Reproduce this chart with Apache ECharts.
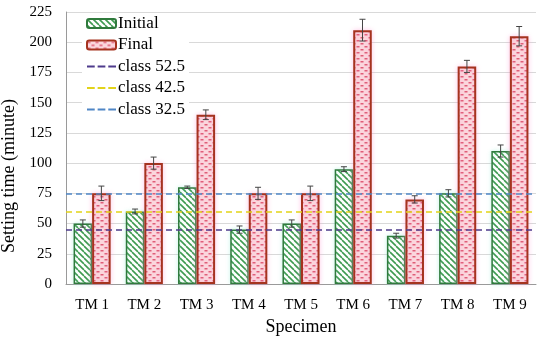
<!DOCTYPE html>
<html>
<head>
<meta charset="utf-8">
<script src="https://cdn.jsdelivr.net/npm/echarts@6/dist/echarts.min.js"></script>
<style>
html,body{margin:0;padding:0;background:#fff;}
#chart{width:550px;height:339px;}
</style>
</head>
<body>
<div id="chart"></div>
<script>
var categories = ['TM 1','TM 2','TM 3','TM 4','TM 5','TM 6','TM 7','TM 8','TM 9'];
var initialValues = [50, 60, 80, 45, 50, 95, 40, 75, 110];
var initialErrors = [3, 2, 1, 3, 3, 2, 2, 3, 5];
var finalValues = [75, 100, 140, 75, 75, 210, 70, 180, 205];
var finalErrors = [6, 5, 4, 5, 6, 9, 3, 5, 8];
var classNames = ['class 52.5', 'class 42.5', 'class 32.5'];
var classValues = [45, 60, 75];
var yTicks = [0, 225, 25];

var FONT = '"Liberation Serif", "Times New Roman", serif';
var classColors = ['#4e3b8c', '#e2d31a', '#4f86c6'];

function makeHatch() {
  var c = document.createElement('canvas');
  c.width = 6; c.height = 6;
  var g = c.getContext('2d');
  g.fillStyle = '#ffffff';
  g.fillRect(0, 0, 6, 6);
  g.strokeStyle = '#3e9a50';
  g.lineWidth = 1.6;
  for (var k = -1; k <= 1; k++) {
    g.beginPath();
    g.moveTo(k * 6, 0);
    g.lineTo(k * 6 + 6, 6);
    g.stroke();
  }
  return c;
}
function makeDots() {
  var c = document.createElement('canvas');
  c.width = 8; c.height = 6;
  var g = c.getContext('2d');
  g.fillStyle = '#fbd6dd';
  g.fillRect(0, 0, 8, 6);
  g.fillStyle = '#e05d78';
  g.fillRect(0.5, 1, 3, 1.5);
  g.fillRect(4.5, 4, 3, 1.5);
  return c;
}

var chart = echarts.init(document.getElementById('chart'), null, {renderer: 'canvas'});

function errorSeries(name, vals, errs, side) {
  var data = vals.map(function (v, i) { return [i, v, errs[i]]; });
  return {
    type: 'custom',
    name: name,
    z: 10,
    silent: true,
    encode: {x: 0, y: 1},
    data: data,
    renderItem: function (params, api) {
      var idx = api.value(0), v = api.value(1), e = api.value(2);
      var band = api.size([1, 0])[0];
      var bw = band * (1 - 0.29) / 2;
      var p = api.coord([idx, v]);
      var x = p[0] + side * bw / 2;
      var top = api.coord([idx, v + e])[1];
      var bot = api.coord([idx, v - e])[1];
      var cap = 3;
      var style = {stroke: '#444', lineWidth: 1, fill: null};
      return {
        type: 'group',
        children: [
          {type: 'line', shape: {x1: x, y1: top, x2: x, y2: bot}, style: style},
          {type: 'line', shape: {x1: x - cap, y1: top, x2: x + cap, y2: top}, style: style},
          {type: 'line', shape: {x1: x - cap, y1: bot, x2: x + cap, y2: bot}, style: style}
        ]
      };
    }
  };
}

var dashIcon = 'path://M0,0h8v2h-8z M11,0h8v2h-8z M22,0h8v2h-8z';

var series = [
  {
    name: 'Initial', type: 'bar', data: initialValues,
    barGap: '0%', barCategoryGap: '29%',
    itemStyle: {color: {image: makeHatch(), repeat: 'repeat'}, borderColor: '#2f7a3c', borderWidth: 1.5,
      shadowColor: 'rgba(120,230,200,0.35)', shadowBlur: 4}
  },
  {
    name: 'Final', type: 'bar', data: finalValues,
    barGap: '0%', barCategoryGap: '29%',
    itemStyle: {color: {image: makeDots(), repeat: 'repeat'}, borderColor: '#a5331f', borderWidth: 2,
      shadowColor: 'rgba(255,150,210,0.45)', shadowBlur: 5}
  },
  errorSeries('errInitial', initialValues, initialErrors, -1),
  errorSeries('errFinal', finalValues, finalErrors, 1)
];
classNames.forEach(function (n, i) {
  series.push({
    name: n, type: 'line', data: [],
    itemStyle: {color: classColors[i]},
    lineStyle: {color: classColors[i], type: 'dashed', width: 1.5},
    markLine: {
      silent: true, symbol: 'none', label: {show: false},
      lineStyle: {color: classColors[i], type: [6, 4], width: 1.5},
      data: [{yAxis: classValues[i]}]
    }
  });
});

chart.setOption({
  animation: false,
  backgroundColor: '#ffffff',
  grid: {left: 66, right: 14, top: 12, bottom: 55, containLabel: false, outerBoundsMode: 'none'},
  legend: {
    orient: 'vertical', left: 82, top: 13,
    backgroundColor: '#ffffff',
    padding: [2, 4, 2, 4],
    itemGap: 4.5, itemWidth: 29, itemHeight: 9,
    textStyle: {fontFamily: FONT, fontSize: 17, color: '#000', padding: [0, 0, 0, -3]},
    data: [
      {name: 'Initial'},
      {name: 'Final'},
      {name: classNames[0], icon: dashIcon, itemStyle: {color: classColors[0], borderWidth: 0}},
      {name: classNames[1], icon: dashIcon, itemStyle: {color: classColors[1], borderWidth: 0}},
      {name: classNames[2], icon: dashIcon, itemStyle: {color: classColors[2], borderWidth: 0}}
    ]
  },
  xAxis: {
    type: 'category', data: categories,
    name: 'Specimen', nameLocation: 'middle', nameGap: 33,
    nameTextStyle: {fontFamily: FONT, fontSize: 18, color: '#000'},
    axisLine: {lineStyle: {color: '#9a9a9a', width: 1}},
    axisTick: {show: false},
    axisLabel: {fontFamily: FONT, fontSize: 15, color: '#000', margin: 14}
  },
  yAxis: {
    type: 'value', min: yTicks[0], max: yTicks[1], interval: yTicks[2],
    name: 'Setting time (minute)', nameLocation: 'middle', nameGap: 37,
    nameTextStyle: {fontFamily: FONT, fontSize: 18, color: '#000', padding: [0, 56, 0, 0]},
    axisLine: {show: true, lineStyle: {color: '#9a9a9a', width: 1}},
    axisTick: {show: false},
    splitLine: {lineStyle: {color: '#d9d9d9', width: 1}},
    axisLabel: {fontFamily: FONT, fontSize: 15, color: '#000', margin: 14}
  },
  series: series
});
</script>
</body>
</html>
